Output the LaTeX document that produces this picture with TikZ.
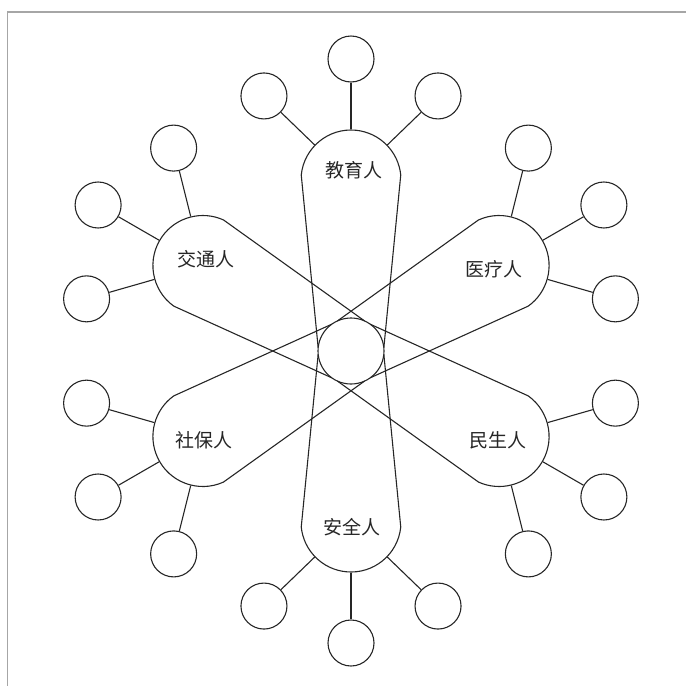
\documentclass[tikz,border=0pt]{standalone}
\usepackage{fontspec}
\newfontfamily\cjk{Noto Sans CJK SC}
\usetikzlibrary{calc}
\begin{document}
\begin{tikzpicture}[x=1pt,y=-1pt,line width=1.1pt,color=black!85,
  petal/.style={circle,minimum size=100pt,inner sep=0pt},
  sat/.style={circle,draw,minimum size=46pt,inner sep=0pt},
  hubstyle/.style={circle,draw,minimum size=66pt,inner sep=0pt},
  lbl/.style={font=\cjk\fontsize{19}{19}\selectfont,inner sep=0pt},
  frame/.style={draw=gray!70,line width=1.5pt}]
\useasboundingbox (0,0) rectangle (686,686);
\draw[frame] (7.3,686) -- (7.3,12) -- (686,12);
\coordinate (C) at (351,351);
\node[hubstyle] (hub) at (C) {};
\foreach \i/\a/\t/\tx/\ty in {1/270/教育人/354/170, 2/330/医疗人/494/269, 3/30/民生人/498/440, 4/90/安全人/352/527, 5/150/社保人/204/440, 6/210/交通人/206/259} {
  \node[petal] (p\i) at ($(C)+(\a:171)$) {};
  \draw ($(C)+(\a-84.3:33)$) -- ($(p\i)+(\a-84.3:50)$)
     arc[start angle=\a-84.3, end angle=\a+84.3, radius=50]
     -- ($(C)+(\a+84.3:33)$);
  \node[lbl] (t\i) at (\tx,\ty) {\t};
  \foreach \j/\d in {1/-46,2/0,3/46} {
    \node[sat] (s\i\j) at ($(p\i)+(\a+\d:121)$) {};
    \draw (p\i) -- (s\i\j);
  }
}
\end{tikzpicture}
\end{document}
